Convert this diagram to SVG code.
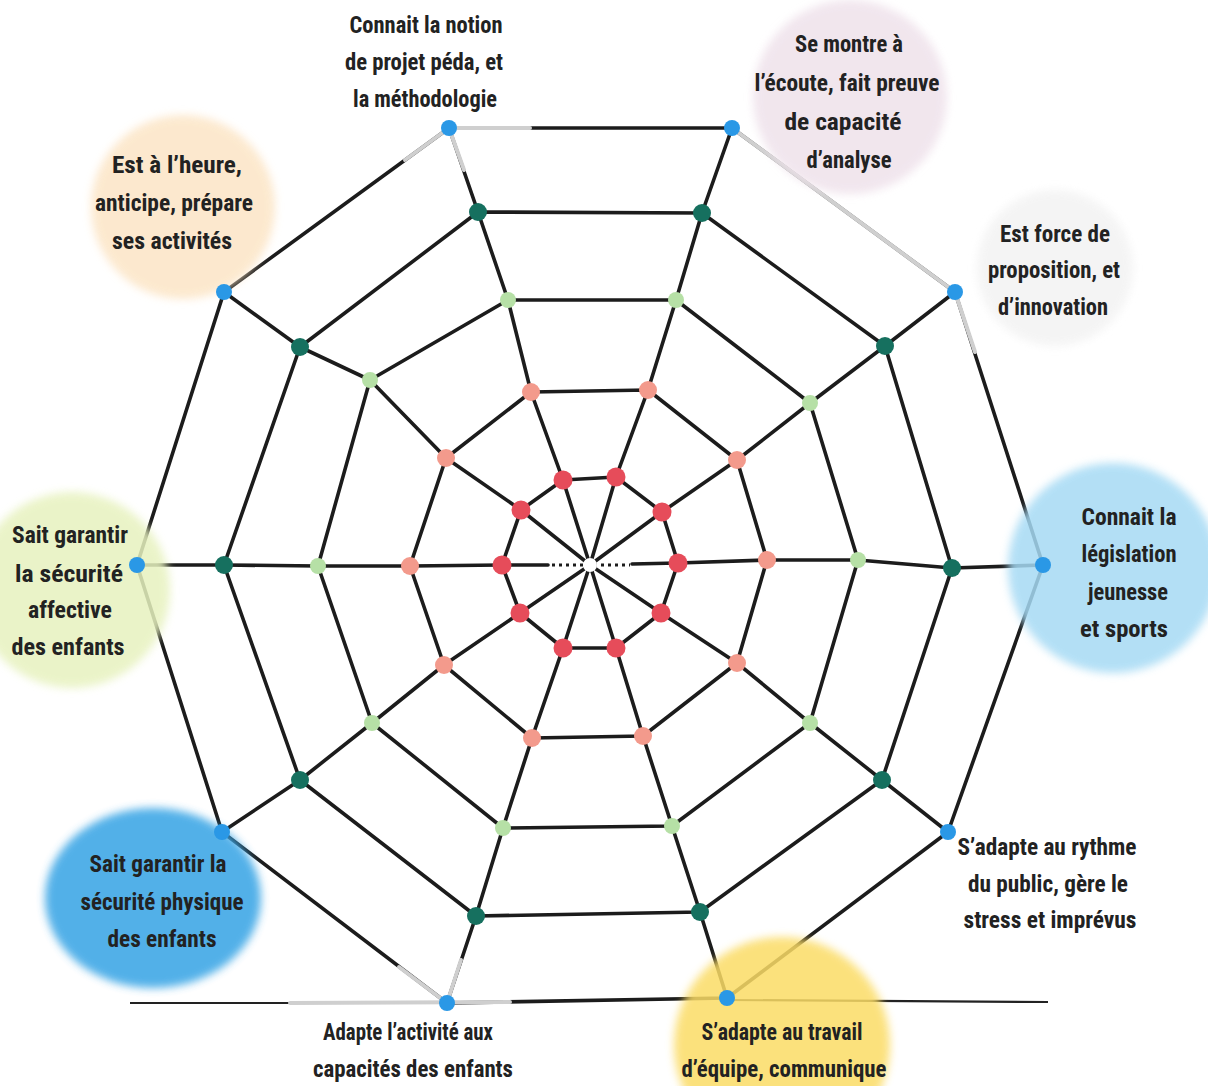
<svg xmlns="http://www.w3.org/2000/svg" width="1208" height="1086" viewBox="0 0 1208 1086">
<style>
.web{fill:none;stroke:#1c1c1c;stroke-width:3.6;stroke-linejoin:round;stroke-linecap:round}
.thin{fill:none;stroke:#222;stroke-width:2.2}
.light{fill:none;stroke:#cfcfcf;stroke-width:4;stroke-linecap:round}
.blob{filter:url(#soft)}
.lbl{font-family:"Liberation Sans Narrow","Roboto Condensed","Liberation Sans",sans-serif;font-weight:bold;font-size:23px;fill:#222;text-anchor:middle}
.b{fill:#2a98e6}
.t{fill:#16705f}
.g{fill:#b6e0a6}
.s{fill:#f39a8c}
.r{fill:#e64c5a}
</style>
<defs>
<filter id="soft" x="-20%" y="-20%" width="140%" height="140%"><feGaussianBlur stdDeviation="4"/></filter>
</defs>
<rect width="1208" height="1086" fill="#fff"/>
<g id="connectors">
<!-- spokes -->
<polyline class="web" points="590,565 563,480 531,392 508,300 478,212 449,128"/>
<polyline class="web" points="590,565 616,477 648,390 676,300 702,213 732,128"/>
<polyline class="web" points="590,565 662,512 737,460 810,403 885,346 955,292"/>
<polyline class="web" points="632,564 678,563 767,560 858,560 952,568 1043,565"/>
<polyline class="web" points="590,565 661,613 737,663 810,723 882,780 948,832"/>
<polyline class="web" points="590,565 616,648 643,736 672,826 700,912 727,998"/>
<polyline class="web" points="590,565 563,648 532,738 503,828 476,916 447,1003"/>
<polyline class="web" points="590,565 520,613 444,665 372,723 300,780 222,832"/>
<polyline class="web" points="548,565 502,565 410,566 318,566 224,565 137,565"/>
<polyline class="web" points="590,565 521,510 446,458 370,380 300,347 224,292"/>
<line x1="552" y1="565" x2="630" y2="565" stroke="#1c1c1c" stroke-width="3" stroke-dasharray="3 4"/>
<circle cx="590" cy="565" r="7" fill="#fff"/>
<!-- rings -->
<polygon class="web" points="563,480 616,477 662,512 678,563 661,613 616,648 563,648 520,613 502,565 521,510"/>
<polygon class="web" points="531,392 648,390 737,460 767,560 737,663 643,736 532,738 444,665 410,566 446,458"/>
<polygon class="web" points="508,300 676,300 810,403 858,560 810,723 672,826 503,828 372,723 318,566 370,380"/>
<polygon class="web" points="478,212 702,213 885,346 952,568 882,780 700,912 476,916 300,780 224,565 300,347"/>
<polygon class="web" points="449,128 732,128 955,292 1043,565 948,832 727,998 447,1003 222,832 137,565 224,292"/>
<!-- bottom baseline -->
<line class="thin" x1="130" y1="1003" x2="447" y2="1003"/>
<line class="thin" x1="727" y1="1000" x2="1048" y2="1002"/>
<!-- light segments -->
<line class="light" x1="449" y1="128" x2="530" y2="128"/>
<line class="light" x1="732" y1="128" x2="955" y2="292" stroke="#bdbdbd"/>
<line class="light" x1="449" y1="128" x2="405" y2="160"/>
<line class="light" x1="449" y1="128" x2="464" y2="170"/>
<line class="light" x1="955" y1="292" x2="975" y2="352"/>
<line class="light" x1="447" y1="1003" x2="399" y2="967"/>
<line class="light" x1="447" y1="1003" x2="461" y2="960"/>
<line class="light" x1="290" y1="1003" x2="510" y2="1002"/>
</g>
<g id="blobs">
<circle class="blob" cx="183" cy="207" r="92" fill="#fce5c6" opacity="0.85"/>
<circle class="blob" cx="850" cy="97" r="97" fill="#efe2eb" opacity="0.85"/>
<circle class="blob" cx="1055" cy="268" r="78" fill="#f2f2f2" opacity="0.8"/>
<circle class="blob" cx="1113" cy="568" r="105" fill="#a6daf4" opacity="0.85"/>
<circle class="blob" cx="72" cy="590" r="98" fill="#e7f2bf" opacity="0.85"/>
<ellipse class="blob" cx="153" cy="898" rx="108" ry="90" fill="#3fa8e6" opacity="0.9"/>
<circle class="blob" cx="782" cy="1045" r="108" fill="#fbdc66" opacity="0.85"/>
</g>
<g id="dots">
<g id="ring-outer">
<circle class="b" cx="449" cy="128" r="8"/><circle class="b" cx="732" cy="128" r="8"/><circle class="b" cx="955" cy="292" r="8"/><circle class="b" cx="1043" cy="565" r="8"/><circle class="b" cx="948" cy="832" r="8"/><circle class="b" cx="727" cy="998" r="8"/><circle class="b" cx="447" cy="1003" r="8"/><circle class="b" cx="222" cy="832" r="8"/><circle class="b" cx="137" cy="565" r="8"/><circle class="b" cx="224" cy="292" r="8"/>
</g>
<g id="ring-4">
<circle class="t" cx="478" cy="212" r="9"/><circle class="t" cx="702" cy="213" r="9"/><circle class="t" cx="885" cy="346" r="9"/><circle class="t" cx="952" cy="568" r="9"/><circle class="t" cx="882" cy="780" r="9"/><circle class="t" cx="700" cy="912" r="9"/><circle class="t" cx="476" cy="916" r="9"/><circle class="t" cx="300" cy="780" r="9"/><circle class="t" cx="224" cy="565" r="9"/><circle class="t" cx="300" cy="347" r="9"/>
</g>
<g id="ring-3">
<circle class="g" cx="508" cy="300" r="8"/><circle class="g" cx="676" cy="300" r="8"/><circle class="g" cx="810" cy="403" r="8"/><circle class="g" cx="858" cy="560" r="8"/><circle class="g" cx="810" cy="723" r="8"/><circle class="g" cx="672" cy="826" r="8"/><circle class="g" cx="503" cy="828" r="8"/><circle class="g" cx="372" cy="723" r="8"/><circle class="g" cx="318" cy="566" r="8"/><circle class="g" cx="370" cy="380" r="8"/>
</g>
<g id="ring-2">
<circle class="s" cx="531" cy="392" r="9"/><circle class="s" cx="648" cy="390" r="9"/><circle class="s" cx="737" cy="460" r="9"/><circle class="s" cx="767" cy="560" r="9"/><circle class="s" cx="737" cy="663" r="9"/><circle class="s" cx="643" cy="736" r="9"/><circle class="s" cx="532" cy="738" r="9"/><circle class="s" cx="444" cy="665" r="9"/><circle class="s" cx="410" cy="566" r="9"/><circle class="s" cx="446" cy="458" r="9"/>
</g>
<g id="ring-1">
<circle class="r" cx="563" cy="480" r="9.5"/><circle class="r" cx="616" cy="477" r="9.5"/><circle class="r" cx="662" cy="512" r="9.5"/><circle class="r" cx="678" cy="563" r="9.5"/><circle class="r" cx="661" cy="613" r="9.5"/><circle class="r" cx="616" cy="648" r="9.5"/><circle class="r" cx="563" cy="648" r="9.5"/><circle class="r" cx="520" cy="613" r="9.5"/><circle class="r" cx="502" cy="565" r="9.5"/><circle class="r" cx="521" cy="510" r="9.5"/>
</g>
</g>
<g id="label-notion">
<text class="lbl" x="426" y="33" textLength="153" lengthAdjust="spacingAndGlyphs">Connait la notion</text>
<text class="lbl" x="424" y="70" textLength="158" lengthAdjust="spacingAndGlyphs">de projet péda, et</text>
<text class="lbl" x="425" y="107" textLength="144" lengthAdjust="spacingAndGlyphs">la méthodologie</text>
</g>
<g id="label-ecoute">
<text class="lbl" x="849" y="52" textLength="108" lengthAdjust="spacingAndGlyphs">Se montre à</text>
<text class="lbl" x="847" y="91" textLength="185" lengthAdjust="spacingAndGlyphs">l’écoute, fait preuve</text>
<text class="lbl" x="843" y="130" textLength="117" lengthAdjust="spacingAndGlyphs">de capacité</text>
<text class="lbl" x="849" y="168" textLength="85" lengthAdjust="spacingAndGlyphs">d’analyse</text>
</g>
<g id="label-heure">
<text class="lbl" x="177" y="173" textLength="130" lengthAdjust="spacingAndGlyphs">Est à l’heure,</text>
<text class="lbl" x="174" y="211" textLength="158" lengthAdjust="spacingAndGlyphs">anticipe, prépare</text>
<text class="lbl" x="172" y="249" textLength="120" lengthAdjust="spacingAndGlyphs">ses activités</text>
</g>
<g id="label-force">
<text class="lbl" x="1055" y="242" textLength="110" lengthAdjust="spacingAndGlyphs">Est force de</text>
<text class="lbl" x="1054" y="278" textLength="132" lengthAdjust="spacingAndGlyphs">proposition, et</text>
<text class="lbl" x="1053" y="315" textLength="110" lengthAdjust="spacingAndGlyphs">d’innovation</text>
</g>
<g id="label-legislation">
<text class="lbl" x="1129" y="525" textLength="95" lengthAdjust="spacingAndGlyphs">Connait la</text>
<text class="lbl" x="1129" y="562" textLength="95" lengthAdjust="spacingAndGlyphs">législation</text>
<text class="lbl" x="1128" y="600" textLength="80" lengthAdjust="spacingAndGlyphs">jeunesse</text>
<text class="lbl" x="1124" y="637" textLength="88" lengthAdjust="spacingAndGlyphs">et sports</text>
</g>
<g id="label-affective">
<text class="lbl" x="70" y="543" textLength="116" lengthAdjust="spacingAndGlyphs">Sait garantir</text>
<text class="lbl" x="69" y="582" textLength="108" lengthAdjust="spacingAndGlyphs">la sécurité</text>
<text class="lbl" x="70" y="618" textLength="84" lengthAdjust="spacingAndGlyphs">affective</text>
<text class="lbl" x="68" y="655" textLength="113" lengthAdjust="spacingAndGlyphs">des enfants</text>
</g>
<g id="label-physique">
<text class="lbl" x="158" y="872" textLength="137" lengthAdjust="spacingAndGlyphs">Sait garantir la</text>
<text class="lbl" x="162" y="910" textLength="163" lengthAdjust="spacingAndGlyphs">sécurité physique</text>
<text class="lbl" x="162" y="947" textLength="109" lengthAdjust="spacingAndGlyphs">des enfants</text>
</g>
<g id="label-rythme">
<text class="lbl" x="1047" y="855" textLength="179" lengthAdjust="spacingAndGlyphs">S’adapte au rythme</text>
<text class="lbl" x="1048" y="892" textLength="160" lengthAdjust="spacingAndGlyphs">du public, gère le</text>
<text class="lbl" x="1050" y="928" textLength="173" lengthAdjust="spacingAndGlyphs">stress et imprévus</text>
</g>
<g id="label-adapte">
<text class="lbl" x="408" y="1040" textLength="170" lengthAdjust="spacingAndGlyphs">Adapte l’activité aux</text>
<text class="lbl" x="413" y="1077" textLength="200" lengthAdjust="spacingAndGlyphs">capacités des enfants</text>
</g>
<g id="label-equipe">
<text class="lbl" x="782" y="1040" textLength="161" lengthAdjust="spacingAndGlyphs">S’adapte au travail</text>
<text class="lbl" x="784" y="1077" textLength="205" lengthAdjust="spacingAndGlyphs">d’équipe, communique</text>
</g>
</svg>
